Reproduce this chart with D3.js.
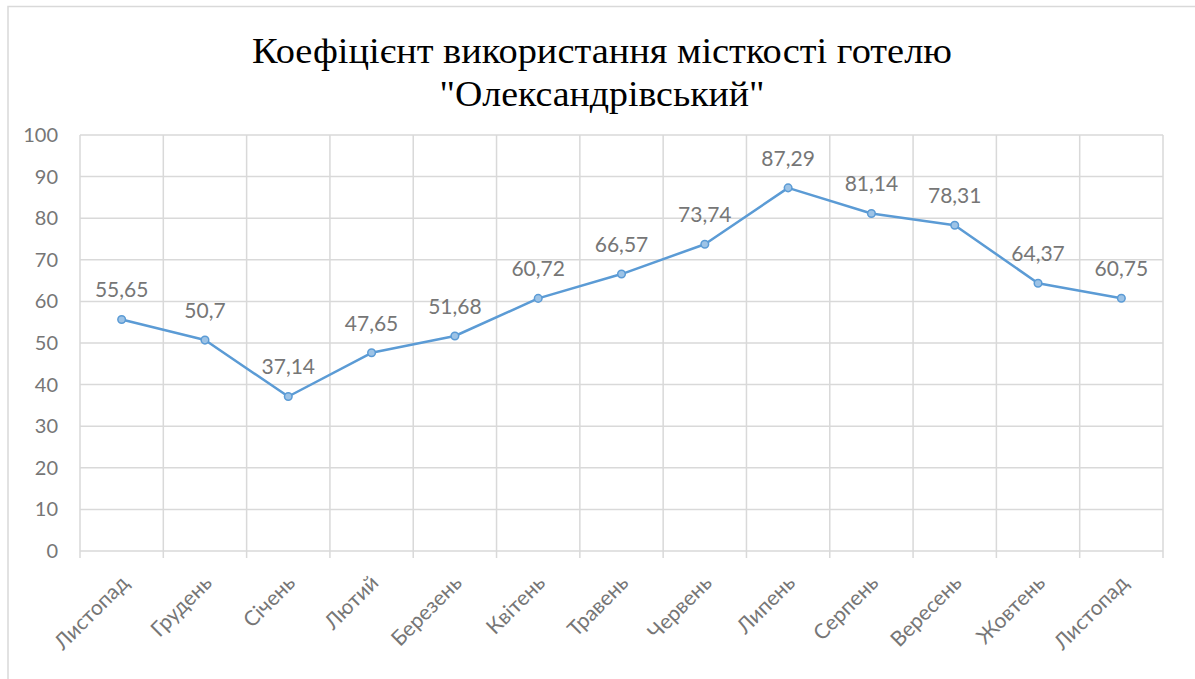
<!DOCTYPE html>
<html><head><meta charset="utf-8">
<script src="https://cdn.jsdelivr.net/npm/d3@7"></script>
<style>body{margin:0;background:#fff}svg{display:block}</style>
</head><body>
<svg id="c" width="1195" height="679"></svg>
<script>
const titleLines = ['Коефіцієнт використання місткості готелю', '"Олександрівський"'];
const categories = ['Листопад','Грудень','Січень','Лютий','Березень','Квітень','Травень','Червень','Липень','Серпень','Вересень','Жовтень','Листопад'];
const values = [55.65, 50.7, 37.14, 47.65, 51.68, 60.72, 66.57, 73.74, 87.29, 81.14, 78.31, 64.37, 60.75];
const yTicks = [0,10,20,30,40,50,60,70,80,90,100];

const svg = d3.select('#c');
const m = {left:80, right:1163, top:135, bottom:551};
const idx = categories.map((d,i)=>i);
const x = d3.scaleBand().domain(idx).range([m.left, m.right]);
const y = d3.scaleLinear().domain([0,100]).range([m.bottom, m.top]);
const textCol = '#767676', gridCol = '#d9d9d9', font = 'Lato, "Open Sans", sans-serif';

// outer frame
svg.append('rect').attr('x',8).attr('y',6.5).attr('width',1200).attr('height',700)
  .attr('fill','none').attr('stroke','#d9d9d9').attr('stroke-width',1.5);

// title
const tl = [{t:titleLines[0], y:63, len:700},{t:titleLines[1], y:106, len:325}];
svg.selectAll('.title').data(tl).join('text').attr('class','title')
  .attr('x',602).attr('y',d=>d.y).attr('text-anchor','middle')
  .attr('font-family','"Liberation Serif", "Times New Roman", serif').attr('font-size',36)
  .attr('fill','#000').attr('textLength',d=>d.len).attr('lengthAdjust','spacingAndGlyphs')
  .text(d=>d.t);

// horizontal grid
svg.append('g').selectAll('line').data(yTicks).join('line')
  .attr('x1',m.left).attr('x2',m.right).attr('y1',d=>y(d)).attr('y2',d=>y(d))
  .attr('stroke',gridCol).attr('stroke-width',1.5);
// vertical grid (category boundaries)
const bounds = idx.map(i=>x(i)).concat([m.right]);
svg.append('g').selectAll('line').data(bounds).join('line')
  .attr('x1',d=>d).attr('x2',d=>d).attr('y1',m.top).attr('y2',m.bottom+7)
  .attr('stroke',gridCol).attr('stroke-width',1.5);

// y axis labels
const yAxis = d3.axisLeft(y).tickValues(yTicks).tickSize(0).tickPadding(22);
const gy = svg.append('g').attr('transform',`translate(${m.left},0)`).call(yAxis);
gy.select('.domain').remove();
gy.selectAll('text').attr('font-family',font).attr('font-size',20).attr('fill',textCol);

// x axis labels
const xAxis = d3.axisBottom(x).tickSize(0).tickFormat(i=>categories[i]);
const gx = svg.append('g').attr('transform',`translate(0,${m.bottom})`).call(xAxis);
gx.select('.domain').remove();
gx.selectAll('text').attr('font-family',font).attr('font-size',21).attr('fill',textCol)
  .attr('text-anchor','end').attr('y',0).attr('dy','0.35em')
  .attr('transform','translate(3,28) rotate(-45)');

// line
const cx = i=>x(i)+x.bandwidth()/2;
svg.append('path').datum(values)
  .attr('d', d3.line().x((d,i)=>cx(i)).y(d=>y(d)))
  .attr('fill','none').attr('stroke','#5b9bd5').attr('stroke-width',2.5).attr('stroke-linejoin','round');
svg.append('g').selectAll('circle').data(values).join('circle')
  .attr('cx',(d,i)=>cx(i)).attr('cy',d=>y(d)).attr('r',3.8)
  .attr('fill','#9dc3e6').attr('stroke','#5b9bd5').attr('stroke-width',1.5);

// data labels
svg.append('g').selectAll('text').data(values).join('text')
  .attr('x',(d,i)=>cx(i)).attr('y',d=>y(d)-22).attr('text-anchor','middle')
  .attr('font-family',font).attr('font-size',21).attr('fill',textCol)
  .text(d=>String(d).replace('.',','));
</script>
</body></html>
